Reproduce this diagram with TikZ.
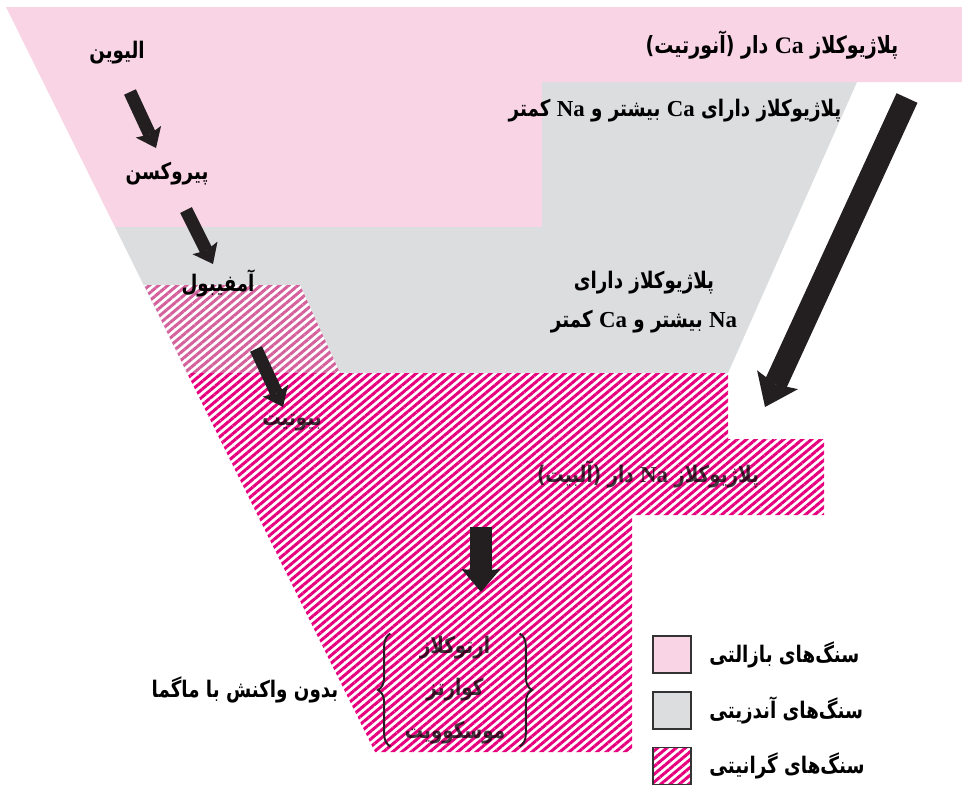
\documentclass[tikz,border=0pt]{standalone}
\usepackage{fontspec}
\usetikzlibrary{positioning, arrows.meta, patterns.meta, decorations.pathreplacing}
\TeXXeTstate=1
\newfontfamily\fa[Script=Arabic, FakeStretch=0.8]{DejaVu Sans}
\newfontfamily\latfont{Liberation Serif}
\newcommand\rtl[1]{\beginR#1\endR}
\newcommand\lat[1]{\beginL{\latfont#1}\endL}

\definecolor{basaltpink}{RGB}{249,212,228}
\definecolor{andesitegray}{RGB}{220,221,223}
\definecolor{granitemag}{RGB}{230,0,126}
\definecolor{granitelight}{RGB}{212,96,156}
\definecolor{arrowblack}{RGB}{35,31,32}

\tikzset{
    mineral/.style={font=\fa\bfseries\fontsize{13}{15}\selectfont, inner sep=1pt},
    striped/.style={mineral, text opacity=0.75},
    hatch/.style={pattern={Lines[angle=40, distance=3.4pt, line width=1.7pt]}},
    curly/.style={decorate, decoration={brace, amplitude=0.25cm}, line width=1.1pt, arrowblack},
    smallarrow/.style={arrowblack, line width=0.26cm,
        -{Stealth[length=0.36cm, width=0.56cm, inset=0.06cm, line width=0pt]}},
    bigarrow/.style={arrowblack, line width=0.46cm,
        -{Stealth[length=0.6cm, width=0.9cm, inset=0.1cm, line width=0pt]}},
    legbox/.style={draw=black!80, line width=1.1pt, minimum width=0.76cm, minimum height=0.74cm, inner sep=0pt},
}

\begin{document}
\begin{tikzpicture}[x=0.02cm, y=-0.02cm]
    \useasboundingbox (0,0) rectangle (962,785);

    % rock zones
    \fill[basaltpink] (6,7) -- (962,7) -- (962,82) -- (542,82) -- (542,227) -- (115,227) -- cycle;
    \fill[andesitegray] (115,227) -- (542,227) -- (542,82) -- (857,82) -- (728,373) -- (187,373) -- cycle;
    \fill[white] (144,285) -- (300,285) -- (340,373) -- (187,373) -- cycle;

    % hatching
    \fill[hatch, pattern color=granitelight] (144,285) -- (300,285) -- (340,373) -- (187,373) -- cycle;
    \fill[hatch, pattern color=granitemag] (187,373) -- (728,373) -- (728,439) -- (824,439) -- (824,515)
        -- (632,515) -- (632,752) -- (375,752) -- cycle;

    % mineral names
    \node[mineral] (olivine) at (117,53) {\rtl{الیوین}};
    \node[mineral] (pyroxene) at (167,174) {\rtl{پیروکسن}};
    \node[mineral] (amphibole) at (218,283) {\rtl{آمفیبول}};
    \node[striped] (biotite) at (292,423) {\rtl{بیوتیت}};
    \node[mineral, font=\fa\bfseries\fontsize{13.5}{15}\selectfont] (anorthite) at (772,45) {\rtl{پلاژیوکلاز \lat{Ca} دار (آنورتیت)}};
    \node[mineral] (calcic) at (675,111) {\rtl{پلاژیوکلاز دارای \lat{Ca} بیشتر و \lat{Na} کمتر}};
    \node[mineral, align=center, font=\fa\bfseries\fontsize{13}{22.1}\selectfont] (sodic) at (644,302)
        {\rtl{پلاژیوکلاز دارای}\\ \rtl{\lat{Na} بیشتر و \lat{Ca} کمتر}};
    \node[striped] (albite) at (648,474) {\rtl{پلاژیوکلاز \lat{Na} دار (آلبیت)}};
    \node[striped, align=center, font=\fa\bfseries\fontsize{13}{24.4}\selectfont, text width=2.3cm] (felsic) at (455,690)
        {\rtl{ارتوکلاز}\\ \rtl{کوارتز}\\ \rtl{موسکوویت}};
    \draw[curly] ([xshift=-0.1cm]felsic.south west) -- ([xshift=-0.1cm]felsic.north west);
    \draw[curly] ([xshift=0.1cm]felsic.north east) -- ([xshift=0.1cm]felsic.south east);
    \node[mineral] (noreact) at (245,690) {\rtl{بدون واکنش با ماگما}};

    % reaction arrows
    \coordinate (o1) at (130,92);  \coordinate (p1) at (156,148);
    \coordinate (p2) at (186,210); \coordinate (a2) at (213,264);
    \coordinate (a3) at (256,349); \coordinate (b3) at (283,407);
    \coordinate (mix) at (481,527); \coordinate (fel) at (481,592);
    \coordinate (ca) at (907,98);  \coordinate (na) at (765,407);
    \draw[smallarrow] (o1) -- (p1);
    \draw[smallarrow] (p2) -- (a2);
    \draw[smallarrow] (a3) -- (b3);
    \draw[arrowblack, line width=0.44cm, -{Stealth[length=0.46cm, width=0.78cm, inset=0.04cm, line width=0pt]}] (mix) -- (fel);
    \draw[bigarrow] (ca) -- (na);

    % legend
    \node[legbox, fill=basaltpink] (basaltbox) at (672,654.5) {};
    \node[legbox, fill=andesitegray] (andesitebox) at (672,710.5) {};
    \node[legbox, hatch, pattern color=granitemag] (granitebox) at (672,766) {};
    \node[mineral, inner sep=0pt, right=0.34cm of basaltbox] (basalt) {\rtl{سنگ‌های بازالتی}};
    \node[mineral, inner sep=0pt, right=0.34cm of andesitebox] (andesite) {\rtl{سنگ‌های آندزیتی}};
    \node[mineral, inner sep=0pt, right=0.34cm of granitebox] (granite) {\rtl{سنگ‌های گرانیتی}};
\end{tikzpicture}
\end{document}
